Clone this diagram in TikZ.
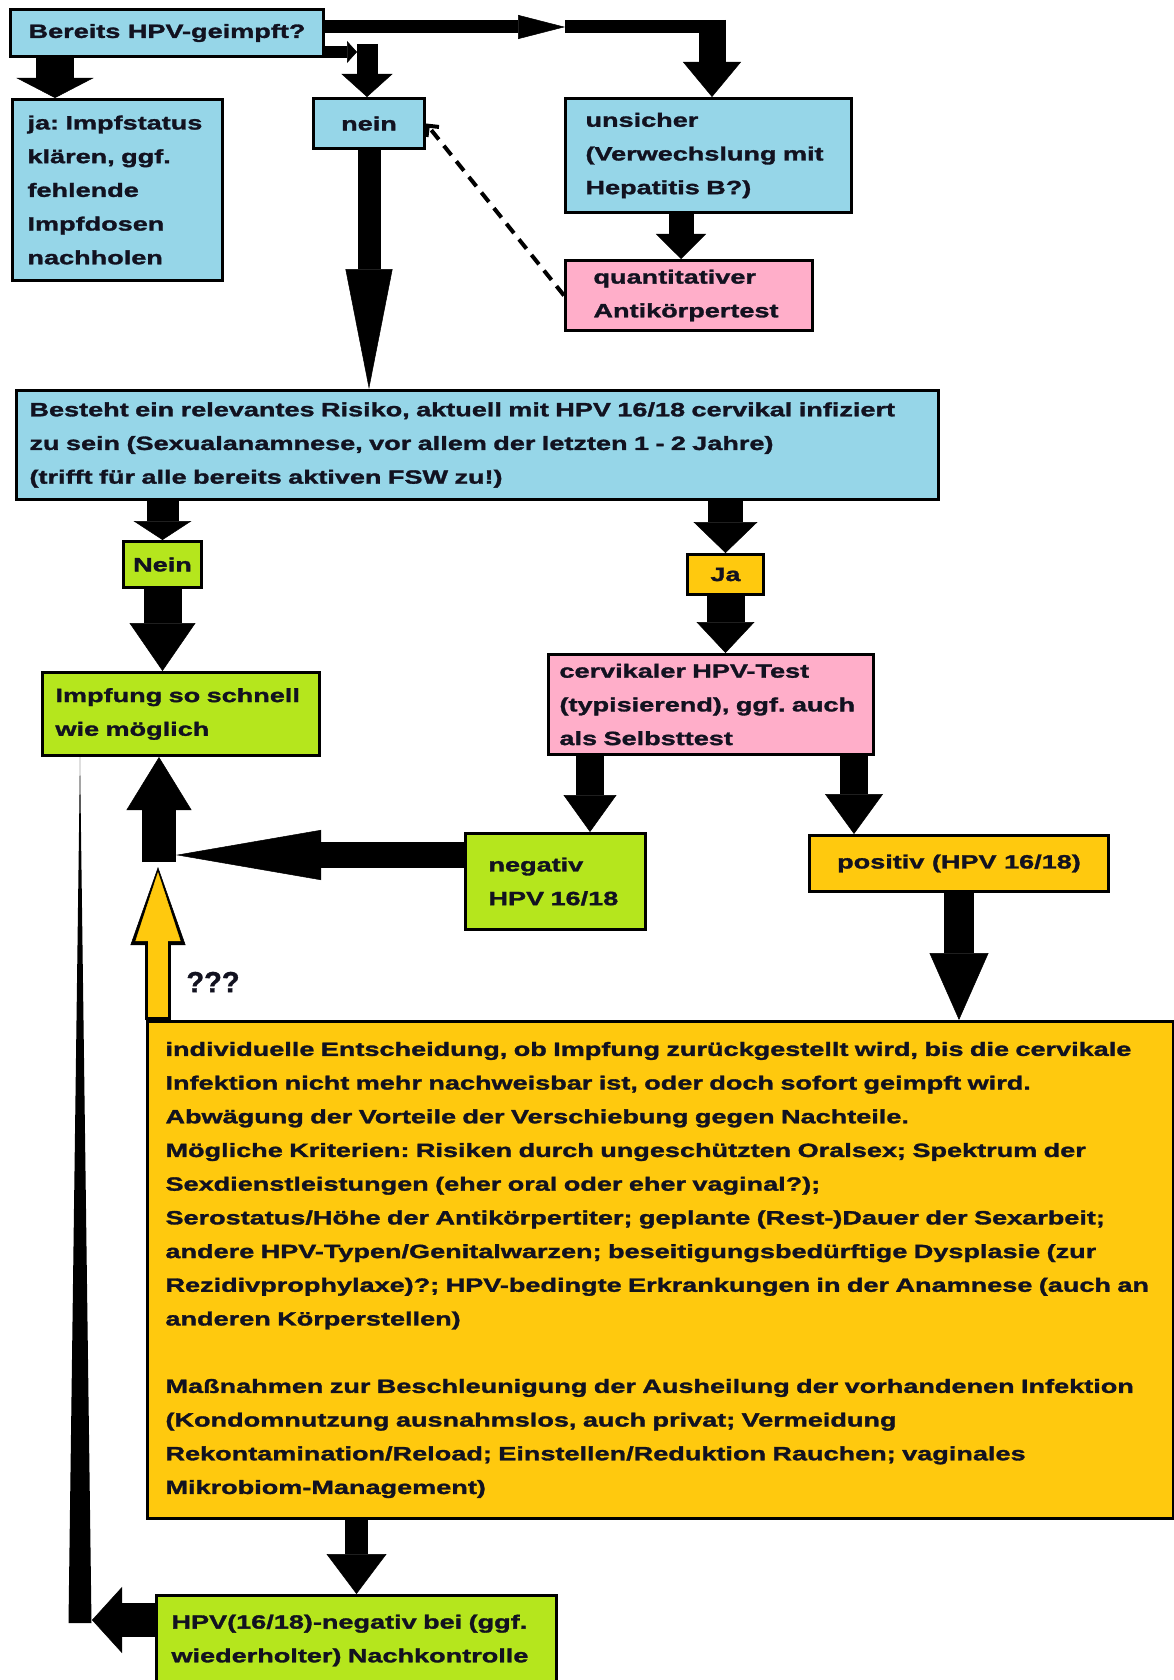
\documentclass[tikz,border=0pt]{standalone}
\usepackage{fontspec}
\newfontfamily\flowfont[FakeStretch=1.41, FakeBold=1.6]{Liberation Sans}
\newfontfamily\plainfont[FakeBold=1.2]{Liberation Sans}
\usetikzlibrary{arrows.meta, positioning}

\definecolor{paintblue}{RGB}{150,214,232}
\definecolor{paintpink}{RGB}{255,174,201}
\definecolor{paintgreen}{RGB}{181,230,29}
\definecolor{paintgold}{RGB}{255,201,14}
\definecolor{inkblack}{RGB}{18,18,32}

\tikzset{
  box/.style={draw=black, line width=3pt, anchor=north west, align=left, inner ysep=0pt, text=inkblack,
    font=\flowfont\bfseries\frenchspacing\fontsize{19.2}{33.7}\selectfont},
  fat/.style n args={3}{line width=#1, -{Triangle[length=#2, width=#3, line width=0.5pt]}},
  dashline/.style={line width=4pt, dash pattern=on 12pt off 8pt, -{Straight Barb[length=8pt, width=16pt]}}
}

\begin{document}
\begin{tikzpicture}[x=1pt, y=-1pt]
  \useasboundingbox (0,0) rectangle (1174,1680);

  % Kaestchen
  \node[box, fill=paintblue, minimum width=313pt, minimum height=47pt, align=center, inner xsep=0pt] (bereits) at (9,8) {Bereits HPV-geimpft?};
  \node[box, fill=paintblue, minimum width=210pt, minimum height=181pt, inner xsep=15pt, text width=180pt] (ja) at (11,98)
    {ja: Impfstatus\\ klären, ggf.\\ fehlende\\ Impfdosen\\ nachholen};
  \node[box, fill=paintblue, minimum width=111pt, minimum height=50pt, align=center, inner xsep=0pt] (nein) at (312,97) {nein};
  \node[box, fill=paintblue, minimum width=286pt, minimum height=114pt, inner xsep=20pt, text width=246pt] (unsicher) at (564,97)
    {unsicher\\ (Verwechslung mit\\ Hepatitis B?)};
  \node[box, fill=paintpink, minimum width=247pt, minimum height=70pt, inner xsep=28pt, text width=191pt] (quant) at (564,259)
    {quantitativer\\ Antikörpertest};
  \node[box, fill=paintblue, minimum width=922pt, minimum height=109pt, inner xsep=13pt, text width=896pt] (besteht) at (15,389)
    {Besteht ein relevantes Risiko, aktuell mit HPV 16/18 cervikal infiziert\\
     zu sein (Sexualanamnese, vor allem der letzten 1 - 2 Jahre)\\
     (trifft für alle bereits aktiven FSW zu!)};
  \node[box, fill=paintgreen, minimum width=78pt, minimum height=46pt, align=center, inner xsep=0pt] (nein2) at (122,540) {Nein};
  \node[box, fill=paintgold, minimum width=76pt, minimum height=40pt, align=center, inner xsep=0pt] (ja2) at (686,553) {Ja};
  \node[box, fill=paintgreen, minimum width=277pt, minimum height=83pt, inner xsep=13pt, text width=251pt] (impfung) at (41,671)
    {Impfung so schnell\\ wie möglich};
  \node[box, fill=paintpink, minimum width=325pt, minimum height=100pt, inner xsep=11pt, text width=303pt] (cervikal) at (547,653)
    {cervikaler HPV-Test\\ (typisierend), ggf. auch\\ als Selbsttest};
  \node[box, fill=paintgreen, minimum width=180pt, minimum height=96pt, inner xsep=23pt, text width=134pt] (negativ) at (464,832)
    {negativ\\ HPV 16/18};
  \node[box, fill=paintgold, minimum width=299pt, minimum height=56pt, align=center, inner xsep=0pt] (positiv) at (808,834)
    {positiv (HPV 16/18)};
  \node[box, fill=paintgold, minimum width=1026pt, minimum height=497pt, inner xsep=18pt, text width=990pt] (big) at (146,1020)
    {individuelle Entscheidung, ob Impfung zurückgestellt wird, bis die~cervikale\\
     Infektion nicht mehr nachweisbar ist, oder doch sofort geimpft wird.\\
     Abwägung der Vorteile der Verschiebung gegen Nachteile.\\
     Mögliche Kriterien: Risiken durch ungeschützten Oralsex; Spektrum der\\
     Sexdienstleistungen (eher oral oder eher vaginal?);\\
     Serostatus/Höhe der Antikörpertiter; geplante (Rest-)Dauer der Sexarbeit;\\
     andere HPV-Typen/Genitalwarzen; beseitigungsbedürftige Dysplasie (zur\\
     Rezidivprophylaxe)?; HPV-bedingte Erkrankungen in der Anamnese (auch~an\\
     anderen Körperstellen)\\[33.7pt]
     Maßnahmen zur Beschleunigung der Ausheilung der vorhandenen Infektion\\
     (Kondomnutzung ausnahmslos, auch privat; Vermeidung\\
     Rekontamination/Reload; Einstellen/Reduktion Rauchen; vaginales\\
     Mikrobiom-Management)};
  \node[box, fill=paintgreen, minimum width=400pt, minimum height=90pt, inner xsep=15pt, text width=370pt] (final) at (155,1594)
    {HPV(16/18)-negativ bei (ggf.\\ wiederholter) Nachkontrolle};
  \node[text=inkblack, font=\plainfont\bfseries\fontsize{29}{29}\selectfont] (qmarks) at (213,982) {???};

  % Hilfspunkte
  \coordinate (xja) at (55,0);
  \coordinate (neinkink) at (357,52);
  \coordinate (neinbend) at (367,44);
  \coordinate (topmid) at (565,27);
  \coordinate (topcorner) at (712,20);
  \coordinate (xquant) at (681,0);
  \coordinate (xneg) at (590,0);
  \coordinate (xpos) at (854,0);
  \coordinate (joint) at (176,855);
  \coordinate (upfoot) at (159,862);
  \coordinate (yellowtip) at (158,867);
  \coordinate (yellowfoot) at (158,1017);
  \coordinate (lefttip) at (92,1620);
  \coordinate (spikefoot) at (80,1623);

  % Pfeile oben
  \draw[fat={38pt}{20pt}{77pt}] (xja |- bereits.south) -- (xja |- ja.north);
  \draw[fat={12pt}{10pt}{22pt}] (bereits.east |- neinkink) -- (neinkink);
  \draw[fat={21pt}{23pt}{51pt}] (neinbend) -- (neinbend |- nein.north);
  \draw[fat={13pt}{47pt}{24pt}] (bereits.east |- topmid) -- (topmid);
  \draw[line width=13pt] (topmid) -- (topcorner |- topmid);
  \draw[fat={27pt}{35pt}{58pt}] (topcorner) -- (topcorner |- unsicher.north);
  \draw[fat={25pt}{25pt}{50pt}] (xquant |- unsicher.south) -- (xquant |- quant.north);
  \draw[dashline] (quant.west) -- (nein.east);
  \draw[fat={23pt}{120pt}{47pt}] (nein.south) -- (nein.south |- besteht.north);

  % Pfeile Mitte
  \draw[fat={32pt}{19pt}{58pt}] (nein2.north |- besteht.south) -- (nein2.north);
  \draw[fat={38pt}{48pt}{66pt}] (nein2.south) -- (nein2.south |- impfung.north);
  \draw[fat={35pt}{31pt}{64pt}] (ja2.north |- besteht.south) -- (ja2.north);
  \draw[fat={38pt}{31pt}{58pt}] (ja2.south) -- (ja2.south |- cervikal.north);
  \draw[fat={28pt}{37pt}{53pt}] (xneg |- cervikal.south) -- (xneg |- negativ.north);
  \draw[fat={28pt}{40pt}{58pt}] (xpos |- cervikal.south) -- (xpos |- positiv.north);
  \draw[fat={30pt}{67pt}{59pt}] (positiv.south) -- (positiv.south |- big.north);
  \draw[fat={26pt}{145pt}{50pt}] (negativ.west |- joint) -- (joint);
  \draw[fat={34pt}{53pt}{65pt}] (upfoot) -- (upfoot |- impfung.south);

  % gelber Pfeil
  \draw[fat={26pt}{78pt}{55pt}] (yellowtip |- big.north) -- (yellowtip);
  \draw[fat={20pt}{69pt}{45pt}, paintgold, shorten >=5pt] (yellowfoot) -- (yellowtip);

  % Pfeile unten
  \draw[fat={23pt}{40pt}{60pt}] (final.north |- big.south) -- (final.north);
  \draw[fat={34pt}{30pt}{66pt}] (final.west |- lefttip) -- (lefttip);
  \fill ([xshift=-11.5pt]spikefoot) -- (spikefoot |- impfung.south) -- ([xshift=11.5pt]spikefoot) -- cycle;
\end{tikzpicture}
\end{document}
